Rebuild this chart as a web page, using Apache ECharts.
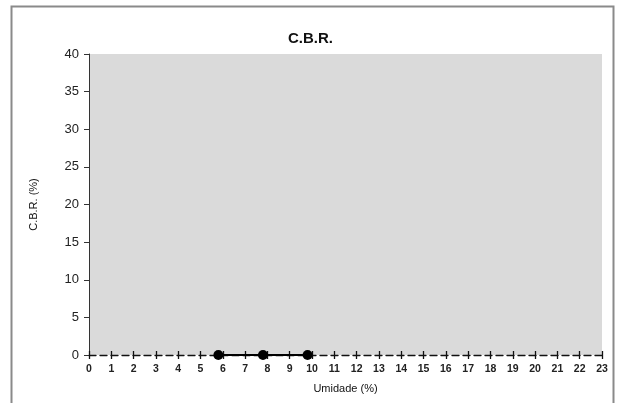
<!DOCTYPE html>
<html>
<head>
<meta charset="utf-8">
<script src="https://cdn.jsdelivr.net/npm/echarts@6/dist/echarts.min.js"></script>
<style>
  html, body { margin: 0; padding: 0; background: #fff; }
  #chart { width: 621px; height: 403px; }
</style>
</head>
<body>
<div id="chart"></div>
<script>
// umidade (%) vs C.B.R. (%)
const umidade = [5.8, 7.8, 9.8];
const cbr = [0, 0, 0];

const xMin = 0, xMax = 23;
const yMin = 0, yMax = 40;

const points = umidade.map((u, i) => [u, cbr[i]]);

let myChart = echarts.init(document.getElementById('chart'));

let option = {
  animation: false,
  textStyle: { fontFamily: 'Liberation Sans, Arial, sans-serif' },
  title: {
    text: 'C.B.R.',
    left: 'center',
    top: 26,
    textStyle: { fontSize: 15, fontWeight: 'bold', color: '#111' }
  },
  graphic: [
    {
      type: 'rect',
      shape: { x: 11.5, y: 6.5, width: 602, height: 420 },
      style: { fill: 'none', stroke: '#8a8a8a', lineWidth: 2 },
      silent: true
    }
  ],
  grid: {
    left: 89,
    right: 19,
    top: 54,
    bottom: 48,
    show: true,
    backgroundColor: '#dadada',
    borderWidth: 0
  },
  xAxis: [
    {
      type: 'value',
      min: xMin,
      max: xMax,
      interval: 1,
      position: 'bottom',
      name: 'Umidade (%)',
      nameLocation: 'middle',
      nameGap: 28,
      nameTextStyle: { fontSize: 11, color: '#111' },
      axisLine: { show: true, lineStyle: { color: '#111', type: [7, 4], width: 1.3 } },
      axisTick: { show: true, inside: false, length: 4, lineStyle: { color: '#111', width: 1.3 } },
      axisLabel: { fontSize: 10.5, fontWeight: 'bold', color: '#222', margin: 9 },
      splitLine: { show: false }
    },
    {
      type: 'value',
      min: xMin,
      max: xMax,
      interval: 1,
      position: 'bottom',
      axisLine: { show: false },
      axisTick: { show: true, inside: true, length: 4, lineStyle: { color: '#111', width: 1.3 } },
      axisLabel: { show: false },
      splitLine: { show: false }
    }
  ],
  yAxis: {
    type: 'value',
    min: yMin,
    max: yMax,
    interval: 5,
    name: 'C.B.R. (%)',
    nameLocation: 'middle',
    nameGap: 50,
    nameTextStyle: { fontSize: 11, color: '#111' },
    axisLine: { show: true, lineStyle: { color: '#333', width: 1 } },
    axisTick: { show: true, length: 5, lineStyle: { color: '#333' } },
    axisLabel: { fontSize: 13, color: '#222', margin: 10 },
    splitLine: { show: false }
  },
  series: [
    {
      type: 'line',
      data: points,
      symbol: 'circle',
      symbolSize: 10,
      itemStyle: { color: '#000' },
      lineStyle: { color: '#000', width: 2 },
      z: 5
    }
  ]
};

myChart.setOption(option);
</script>
</body>
</html>
